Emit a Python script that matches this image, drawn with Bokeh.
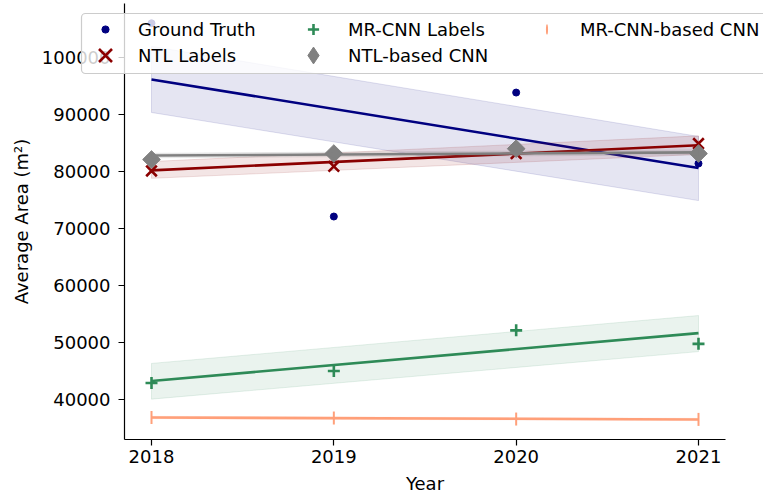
import math
from bokeh.plotting import figure
from bokeh.models import (Legend, LegendItem, FixedTicker, Range1d,
                          NumeralTickFormatter, BoxAnnotation)
from bokeh.embed import file_html
from bokeh.resources import INLINE

# ---- data ----
years = [2018, 2019, 2020, 2021]
fit_years = [2018, 2021]

ground_truth = [106000, 72100, 93850, 81400]
ground_truth_fit = [96150, 80600]
ground_truth_ci_low = [90350, 74900]
ground_truth_ci_high = [101950, 86150]

ntl_labels = [80100, 80900, 83150, 84900]
ntl_labels_fit = [80200, 84600]
ntl_labels_ci_low = [78800, 83000]
ntl_labels_ci_high = [81750, 86250]

mrcnn_labels = [42900, 45000, 52130, 49760]
mrcnn_labels_fit = [43250, 51650]
mrcnn_labels_ci_low = [40060, 48400]
mrcnn_labels_ci_high = [46330, 54730]

ntl_cnn = [82100, 83150, 84000, 83150]
ntl_cnn_fit = [82800, 83350]
ntl_cnn_ci_low = [82400, 82900]
ntl_cnn_ci_high = [83200, 83800]

mrcnn_cnn = [36860, 36750, 36570, 36510]
mrcnn_cnn_fit = [36850, 36500]
mrcnn_cnn_ci_low = [36650, 36300]
mrcnn_cnn_ci_high = [37050, 36700]

y_ticks = [40000, 50000, 60000, 70000, 80000, 90000, 100000]

FONT = "DejaVu Sans"
FS = "18px"

X_LEFT, X_RIGHT = 2017.852, 2021.148
Y_BOTTOM, Y_AXIS_TOP = 32982, 109474

p = figure(width=763, height=496, output_backend="svg", toolbar_location=None,
           x_range=Range1d(2017.1718, 2021.3565), y_range=Range1d(22982, 110000),
           min_border_left=0, min_border_right=0, min_border_top=0,
           min_border_bottom=0)
p.outline_line_color = None
p.xgrid.visible = False
p.ygrid.visible = False
p.background_fill_color = "white"
# a range on which legend-only handles fall outside the visible canvas
p.extra_y_ranges = {"legend_only": Range1d(0, 1)}


def band(low, high, color, alpha=0.1):
    xs = [fit_years[0], fit_years[1], fit_years[1], fit_years[0]]
    ys = [low[0], low[1], high[1], high[0]]
    p.patch(xs, ys, fill_color=color, fill_alpha=alpha, line_color=color,
            line_alpha=0.12, line_width=1)


def fit(vals, color):
    p.line(fit_years, vals, line_color=color, line_width=2.6)


# Ground Truth
r_gt = p.scatter(years, ground_truth, marker="circle", size=7,
                 fill_color="#000080", line_color="#000080")
fit(ground_truth_fit, "#000080")
band(ground_truth_ci_low, ground_truth_ci_high, "#000080")

# NTL Labels
r_ntl = p.scatter(years, ntl_labels, marker="x", size=15, line_color="#8B0000",
                  line_width=2.6)
fit(ntl_labels_fit, "#8B0000")
band(ntl_labels_ci_low, ntl_labels_ci_high, "#8B0000")

# MR-CNN Labels
r_mr = p.scatter(years, mrcnn_labels, marker="cross", size=12, line_color="#2E8B57",
                 line_width=2.6)
fit(mrcnn_labels_fit, "#2E8B57")
band(mrcnn_labels_ci_low, mrcnn_labels_ci_high, "#2E8B57")

# NTL-based CNN
p.scatter(years, ntl_cnn, marker="square", angle=math.pi / 4, size=12.5,
          fill_color="#808080", line_color="#808080")
fit(ntl_cnn_fit, "#808080")
band(ntl_cnn_ci_low, ntl_cnn_ci_high, "#808080", 0.15)
# legend-only handle (not drawn in the plot)
r_ntlcnn_leg = p.scatter(years, ntl_cnn, marker="diamond", size=17,
                         fill_color="#808080", line_color="#808080", visible=False)

# MR-CNN-based CNN
p.scatter(years, mrcnn_cnn, marker="dash", angle=math.pi / 2, size=13,
          line_color="#FFA07A", line_width=2)
fit(mrcnn_cnn_fit, "#FFA07A")
band(mrcnn_cnn_ci_low, mrcnn_cnn_ci_high, "#FFA07A", 0.15)
# legend-only handle: thin vertical ellipse -> '|' handle (falls off-canvas)
r_mrcnn_leg = p.ellipse(x=years, y=mrcnn_cnn, width=2, height=10,
                        width_units="screen", height_units="screen",
                        fill_color="#FFA07A", line_color=None,
                        y_range_name="legend_only")

# axes placed at fixed positions so the frame can span the whole canvas
for ax in (p.xaxis[0], p.yaxis[0]):
    ax.axis_line_color = "black"
    ax.axis_line_width = 1.2
    ax.major_tick_line_color = "black"
    ax.major_tick_line_width = 1.2
    ax.major_tick_in = 0
    ax.major_tick_out = 6
    ax.minor_tick_line_color = None
    ax.major_label_text_font = FONT
    ax.major_label_text_font_size = FS
    ax.major_label_text_color = "black"
    ax.axis_label_text_font = FONT
    ax.axis_label_text_font_size = FS
    ax.axis_label_text_font_style = "normal"
    ax.axis_label_text_color = "black"

p.xaxis.ticker = FixedTicker(ticks=years)
p.xaxis.axis_label = "Year"
p.xaxis.major_label_standoff = 4
p.xaxis.axis_label_standoff = 7
p.xaxis.fixed_location = Y_BOTTOM
p.xaxis.bounds = (X_LEFT, X_RIGHT)

p.yaxis.ticker = FixedTicker(ticks=y_ticks)
p.yaxis.formatter = NumeralTickFormatter(format="0")
p.yaxis.axis_label = "Average Area (m²)"
p.yaxis.major_label_standoff = 8
p.yaxis.axis_label_standoff = 7
p.yaxis.fixed_location = X_LEFT
p.yaxis.bounds = (Y_BOTTOM, Y_AXIS_TOP)

# legend frame
box = BoxAnnotation(left=81, right=800, top=13, bottom=73,
                    left_units="canvas", right_units="canvas",
                    top_units="canvas", bottom_units="canvas",
                    fill_color="white", fill_alpha=0.8,
                    line_color="#cccccc", line_width=1.2, line_alpha=1.0,
                    border_radius=4)
p.add_layout(box)


def add_legend(label, renderer, loc, gw, gh, lh, standoff):
    leg = Legend(items=[LegendItem(label=label, renderers=[renderer])],
                 location=loc, glyph_width=gw, glyph_height=gh, label_height=lh,
                 label_standoff=standoff, padding=0, spacing=0, margin=0,
                 label_text_font=FONT, label_text_font_size=FS,
                 label_text_color="black",
                 border_line_color=None, background_fill_alpha=0)
    p.add_layout(leg, "center")


add_legend("Ground Truth", r_gt, (96, 455), 18, 24, 24, 24)
add_legend("NTL Labels", r_ntl, (82, 418), 46, 46, 46, 10)
add_legend("MR-CNN Labels", r_mr, (299, 453), 28, 28, 28, 21)
add_legend("NTL-based CNN", r_ntlcnn_leg, (292, 420), 42, 42, 42, 14)
add_legend("MR-CNN-based CNN", r_mrcnn_leg, (540, 456), 13, 22, 22, 27)

open("out.html", "w").write(file_html(p, INLINE))
